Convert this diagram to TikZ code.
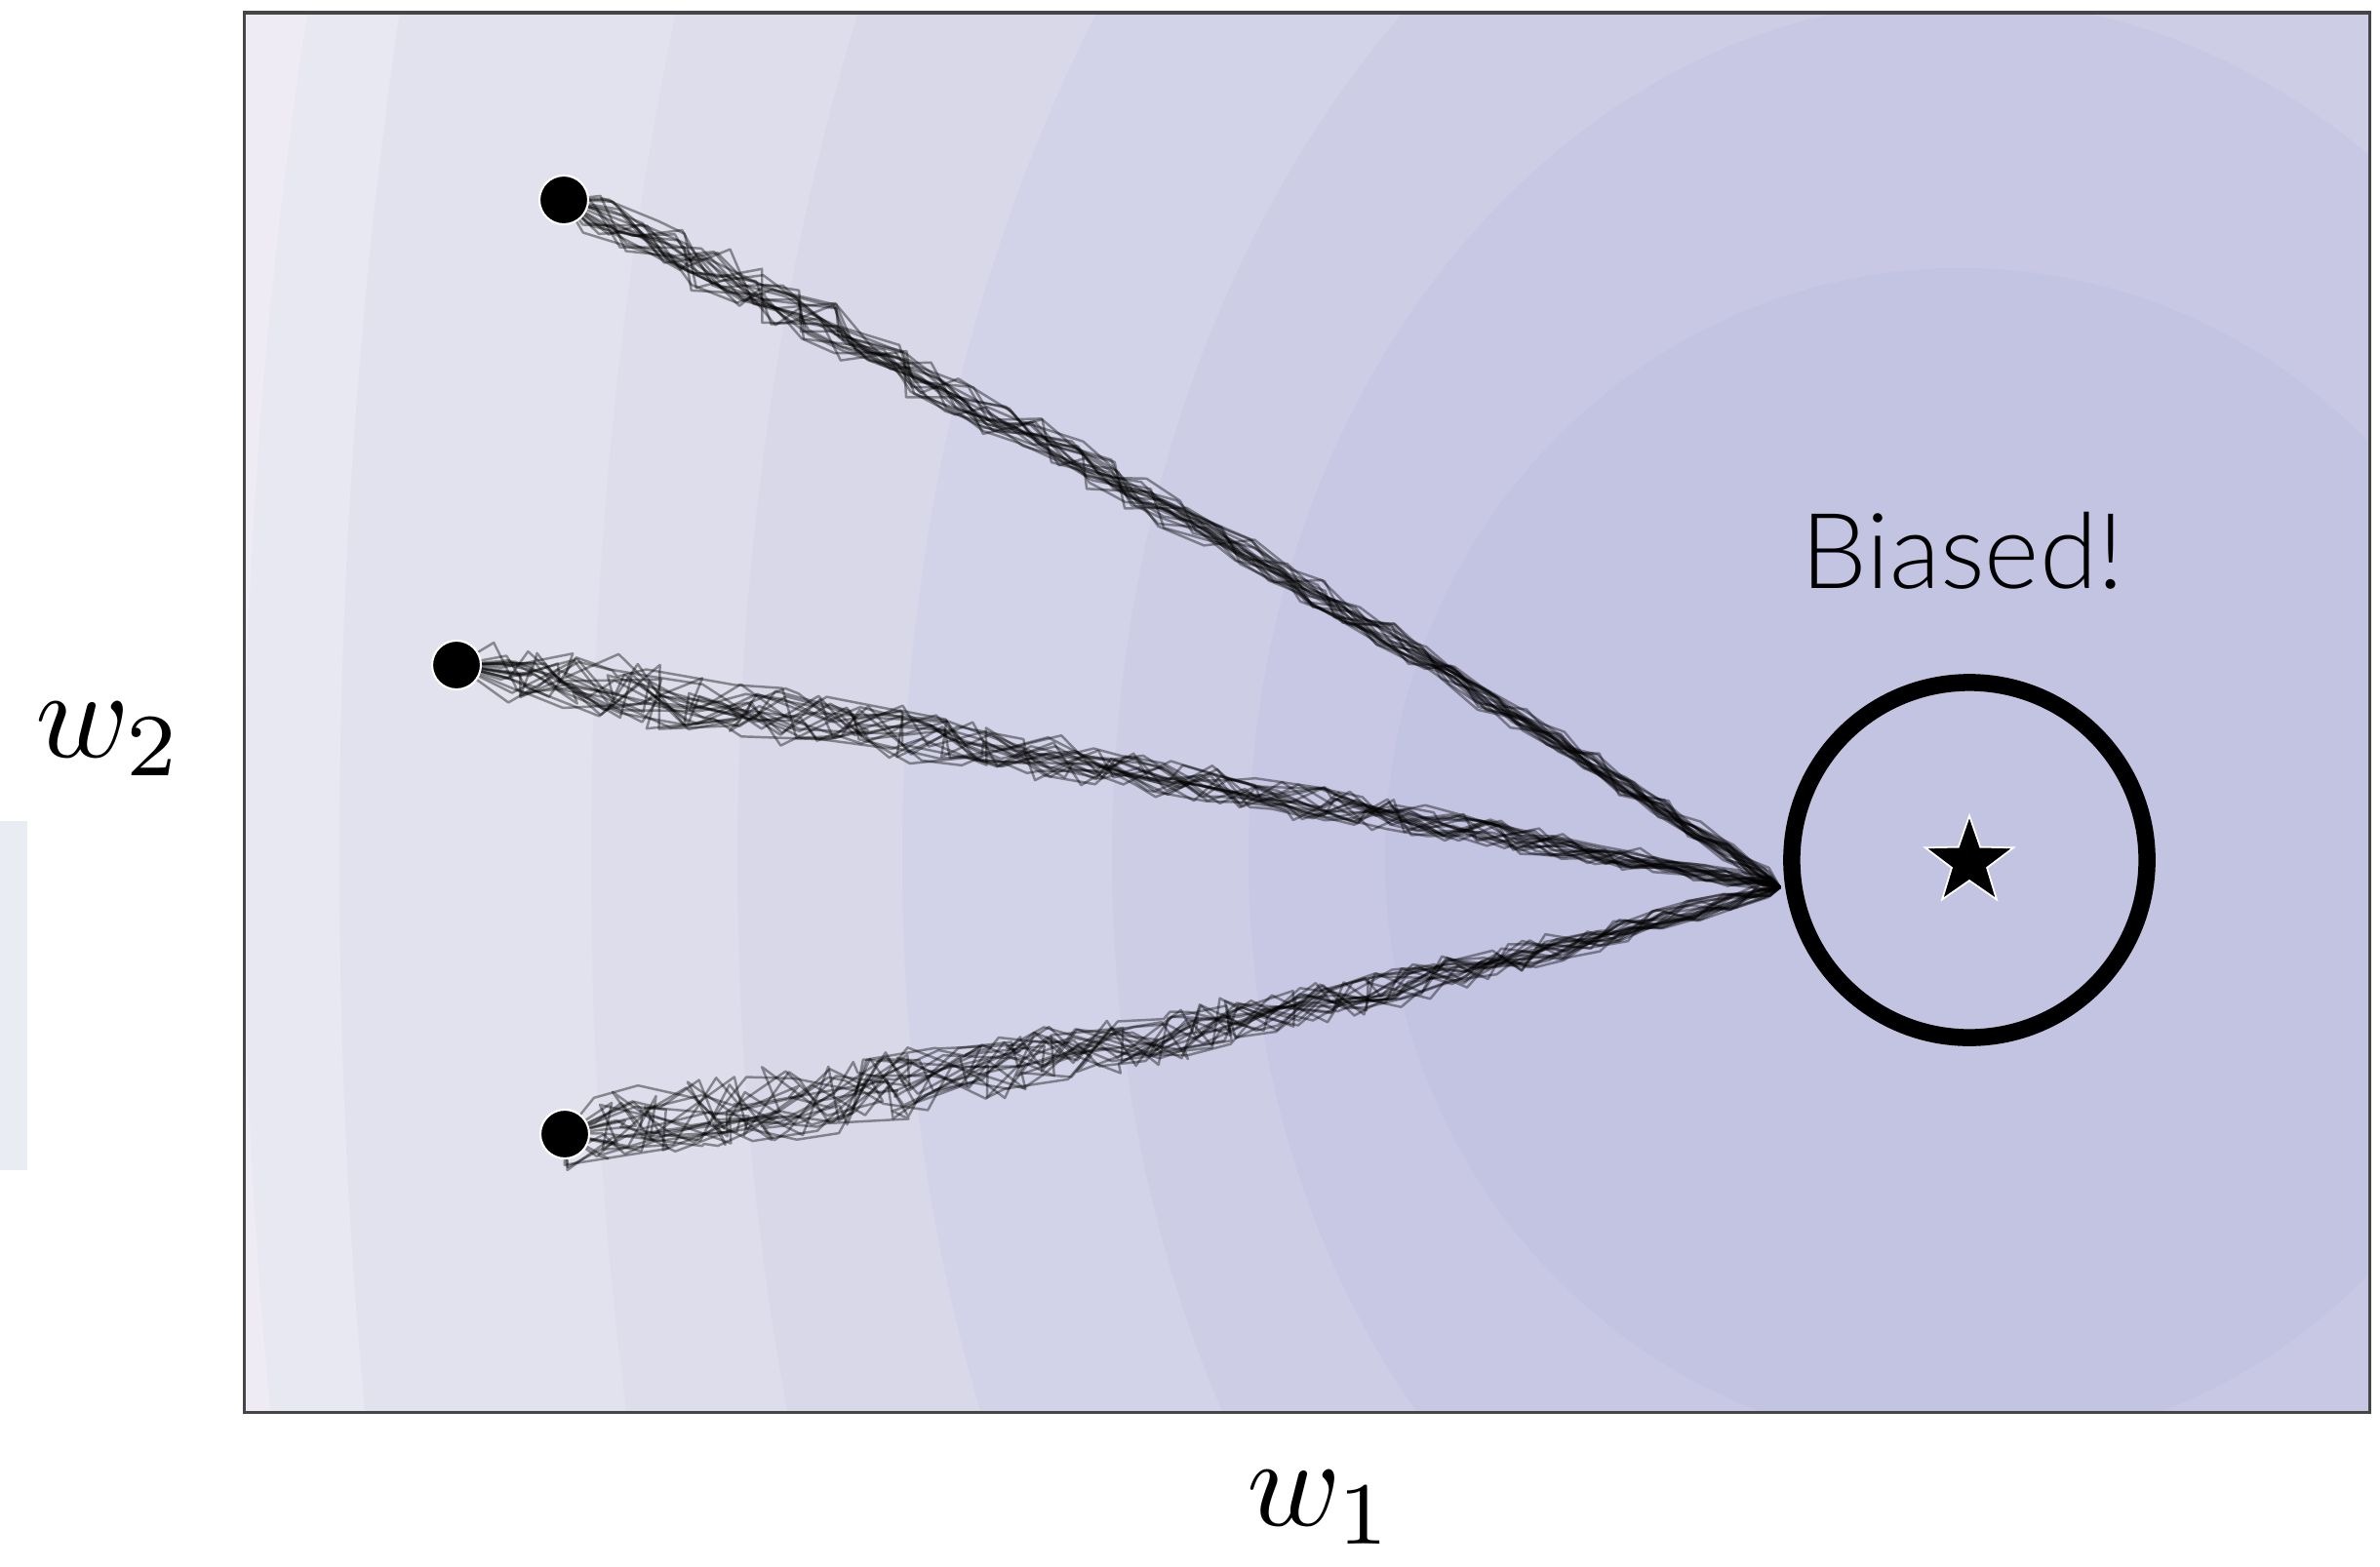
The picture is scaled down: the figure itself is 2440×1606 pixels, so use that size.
\documentclass[tikz,border=0pt]{standalone}
\usepackage{fontspec}
\newfontfamily\lblfont{Lato Light}
\usetikzlibrary{shapes.geometric}
\definecolor{lv0}{RGB}{238,235,245}
\definecolor{lv1}{RGB}{232,232,242}
\definecolor{lv2}{RGB}{226,226,238}
\definecolor{lv3}{RGB}{221,221,235}
\definecolor{lv4}{RGB}{216,216,233}
\definecolor{lv5}{RGB}{210,210,232}
\definecolor{lv6}{RGB}{205,205,230}
\definecolor{lv7}{RGB}{200,200,228}
\definecolor{lv8}{RGB}{195,195,226}
\definecolor{sidebar}{RGB}{234,236,243}
\definecolor{framegray}{RGB}{70,70,70}
\tikzset{
  traj/.style ={black,opacity=.4,line width=.7pt,line join=round},
  dot/.style  ={circle,fill=black,draw=white,line width=.6pt,
                minimum size=.5cm,inner sep=0pt},
  goal/.style ={star,star points=5,star point ratio=2.5,fill=black,
                draw=white,line width=.5pt,minimum size=.95cm,inner sep=0pt},
  ring/.style ={circle,draw=black,line width=.175cm,minimum size=3.64cm,
                inner sep=0pt},
  axlbl/.style={scale=3.7,inner sep=0pt},
}

\begin{document}
\begin{tikzpicture}[x=0.01cm,y=-0.01cm]
\useasboundingbox (0,0) rectangle (2440,1606);
\fill[sidebar] (0,842) rectangle (28,1200);
\begin{scope}
\clip (250,13) rectangle (2429,1448);
\fill[lv0] (250,13) rectangle (2429,1448);
\foreach \a/\b/\c in {1760/3200/lv1,1662/3200/lv2,1404/2500/lv3,1254/2000/lv4,
                      1085/1500/lv5,870/1150/lv6,730/880/lv7,590/605/lv8}
  \fill[\c] (2010,880) ellipse [x radius=\a,y radius=\b];
\end{scope}
\draw[framegray,line width=.03cm] (250,13) rectangle (2429,1448);
\coordinate (p1) at (578,205);
\coordinate (p2) at (468,682);
\coordinate (p3) at (579,1163);
\coordinate (conv) at (1825,910);
\pgfmathsetseed{11}
\foreach \n/\sx/\sy/\cx/\cy/\amp in {p1/578/205/1220/505/16,
    p2/468/682/1250/800/28,p3/579/1163/1220/1080/36}
  \foreach \k in {1,...,20}
    \draw[traj] (\n) -- plot[domain=0.03:0.985,samples=34,variable=\t]
      ({(1-\t)^2*\sx+2*\t*(1-\t)*\cx+\t^2*1825+(\amp*(1-\t)+8)*rand},
       {(1-\t)^2*\sy+2*\t*(1-\t)*\cy+\t^2*910+(\amp*(1-\t)+8)*rand}) -- (conv);
\node[dot] (s1) at (p1) {};
\node[dot] (s2) at (p2) {};
\node[dot] (s3) at (p3) {};
\node[ring] (bias) at (2019,882) {};
\node[goal] (opt) at (2019,884) {};
\node[font=\lblfont\fontsize{30.6}{36}\selectfont,anchor=base] (lbl)
  at (2012,603) {Biased!};
\node[axlbl] (w2) at (112,758) {$w_2$};
\node[axlbl] (w1) at (1354,1546) {$w_1$};
\end{tikzpicture}
\end{document}
